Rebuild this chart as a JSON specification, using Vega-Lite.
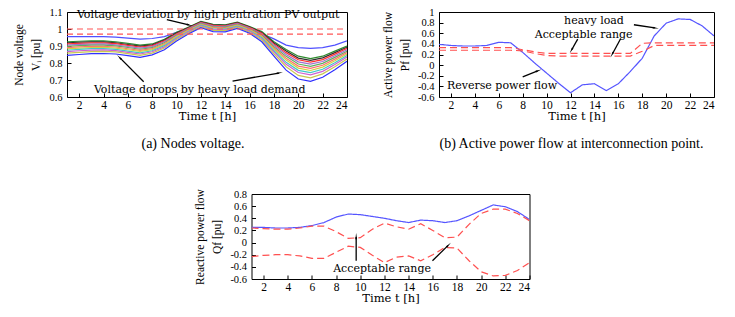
{
  "$schema": "https://vega.github.io/schema/vega-lite/v6.json",
  "background": "white",
  "padding": {"left": 13, "top": 6, "right": 2, "bottom": 0},
  "config": {
    "view": {"stroke": "#000", "strokeWidth": 1},
    "font": "DejaVu Serif",
    "axis": {"grid": false, "domain": false, "tickColor": "#000", "tickSize": -4, "labelColor": "#000", "titleColor": "#000", "titleFontWeight": "normal", "labelFont": "Liberation Serif", "labelFontSize": 11.5, "labelOverlap": false},
    "axisX": {"titleFont": "DejaVu Serif", "titleFontSize": 11.5, "titlePadding": 0, "labelPadding": 6},
    "axisY": {"titleFont": "Liberation Serif", "titleFontSize": 11.5, "titlePadding": 7, "labelPadding": 9, "titleLineHeight": 17, "labelFontSize": 10.5},
    "title": {"font": "Liberation Serif", "fontSize": 14, "fontWeight": "normal", "color": "#000"},
    "text": {"font": "DejaVu Serif", "fontSize": 11, "color": "#000"}
  },
  "spacing": 36,
  "center": true,
  "resolve": {"scale": {"color": "independent", "strokeDash": "independent"}},
  "vconcat": [
    {
      "spacing": 32,
      "resolve": {"scale": {"color": "independent", "strokeDash": "independent"}},
      "hconcat": [
        {
          "width": 280,
          "height": 85,
          "title": {"text": "(a) Nodes voltage.", "orient": "bottom", "anchor": "middle", "frame": "group", "dx": -14, "offset": 15},
          "encoding": {
            "x": {"field": "t", "type": "quantitative", "scale": {"domain": [1, 24], "nice": false, "zero": false}, "axis": {"values": [2, 4, 6, 8, 10, 12, 14, 16, 18, 20, 22, 24], "title": "Time t [h]"}},
            "y": {"field": "v", "type": "quantitative", "scale": {"domain": [0.6, 1.1], "nice": false, "zero": false}, "axis": {"values": [0.6, 0.7, 0.8, 0.9, 1, 1.1], "labelExpr": "'' + datum.value", "title": ["Node voltage", "Vᵢ [pu]"]}}
          },
          "layer": [
            {
              "data": {"values": [
                {"t": 1, "L1": 0.955, "L2": 0.925, "L3": 0.919, "L4": 0.912, "L5": 0.905, "L6": 0.898, "L7": 0.891, "L8": 0.883, "L9": 0.875, "L10": 0.867, "L11": 0.858, "L12": 0.845},
                {"t": 2, "L1": 0.955, "L2": 0.928, "L3": 0.922, "L4": 0.916, "L5": 0.909, "L6": 0.902, "L7": 0.895, "L8": 0.887, "L9": 0.880, "L10": 0.872, "L11": 0.863, "L12": 0.850},
                {"t": 3, "L1": 0.955, "L2": 0.930, "L3": 0.924, "L4": 0.918, "L5": 0.911, "L6": 0.905, "L7": 0.898, "L8": 0.891, "L9": 0.884, "L10": 0.876, "L11": 0.867, "L12": 0.855},
                {"t": 4, "L1": 0.955, "L2": 0.930, "L3": 0.924, "L4": 0.918, "L5": 0.912, "L6": 0.905, "L7": 0.898, "L8": 0.892, "L9": 0.884, "L10": 0.877, "L11": 0.868, "L12": 0.856},
                {"t": 5, "L1": 0.952, "L2": 0.925, "L3": 0.919, "L4": 0.914, "L5": 0.907, "L6": 0.901, "L7": 0.894, "L8": 0.888, "L9": 0.880, "L10": 0.873, "L11": 0.865, "L12": 0.853},
                {"t": 6, "L1": 0.946, "L2": 0.915, "L3": 0.909, "L4": 0.904, "L5": 0.897, "L6": 0.891, "L7": 0.884, "L8": 0.878, "L9": 0.870, "L10": 0.863, "L11": 0.855, "L12": 0.843},
                {"t": 7, "L1": 0.940, "L2": 0.905, "L3": 0.899, "L4": 0.894, "L5": 0.887, "L6": 0.881, "L7": 0.874, "L8": 0.868, "L9": 0.860, "L10": 0.853, "L11": 0.845, "L12": 0.833},
                {"t": 8, "L1": 0.944, "L2": 0.912, "L3": 0.907, "L4": 0.902, "L5": 0.896, "L6": 0.890, "L7": 0.885, "L8": 0.879, "L9": 0.872, "L10": 0.866, "L11": 0.858, "L12": 0.848},
                {"t": 9, "L1": 0.955, "L2": 0.940, "L3": 0.935, "L4": 0.930, "L5": 0.925, "L6": 0.919, "L7": 0.913, "L8": 0.908, "L9": 0.902, "L10": 0.895, "L11": 0.888, "L12": 0.878},
                {"t": 10, "L1": 0.980, "L2": 0.980, "L3": 0.976, "L4": 0.972, "L5": 0.968, "L6": 0.963, "L7": 0.959, "L8": 0.954, "L9": 0.949, "L10": 0.944, "L11": 0.938, "L12": 0.930},
                {"t": 11, "L1": 1.005, "L2": 1.012, "L3": 1.009, "L4": 1.006, "L5": 1.002, "L6": 0.998, "L7": 0.995, "L8": 0.991, "L9": 0.987, "L10": 0.983, "L11": 0.978, "L12": 0.972},
                {"t": 12, "L1": 1.030, "L2": 1.045, "L3": 1.042, "L4": 1.039, "L5": 1.036, "L6": 1.032, "L7": 1.029, "L8": 1.026, "L9": 1.022, "L10": 1.018, "L11": 1.014, "L12": 1.008},
                {"t": 13, "L1": 1.010, "L2": 1.028, "L3": 1.025, "L4": 1.021, "L5": 1.017, "L6": 1.013, "L7": 1.010, "L8": 1.006, "L9": 1.001, "L10": 0.997, "L11": 0.992, "L12": 0.985},
                {"t": 14, "L1": 1.010, "L2": 1.025, "L3": 1.022, "L4": 1.018, "L5": 1.015, "L6": 1.011, "L7": 1.007, "L8": 1.003, "L9": 0.999, "L10": 0.995, "L11": 0.990, "L12": 0.983},
                {"t": 15, "L1": 1.025, "L2": 1.040, "L3": 1.037, "L4": 1.034, "L5": 1.031, "L6": 1.027, "L7": 1.024, "L8": 1.021, "L9": 1.017, "L10": 1.013, "L11": 1.009, "L12": 1.003},
                {"t": 16, "L1": 1.005, "L2": 1.015, "L3": 1.012, "L4": 1.009, "L5": 1.005, "L6": 1.001, "L7": 0.998, "L8": 0.994, "L9": 0.990, "L10": 0.986, "L11": 0.981, "L12": 0.975},
                {"t": 17, "L1": 0.972, "L2": 0.985, "L3": 0.980, "L4": 0.975, "L5": 0.970, "L6": 0.965, "L7": 0.959, "L8": 0.954, "L9": 0.948, "L10": 0.942, "L11": 0.935, "L12": 0.925},
                {"t": 18, "L1": 0.942, "L2": 0.925, "L3": 0.918, "L4": 0.911, "L5": 0.904, "L6": 0.896, "L7": 0.888, "L8": 0.881, "L9": 0.872, "L10": 0.864, "L11": 0.854, "L12": 0.840},
                {"t": 19, "L1": 0.905, "L2": 0.880, "L3": 0.870, "L4": 0.861, "L5": 0.850, "L6": 0.839, "L7": 0.828, "L8": 0.817, "L9": 0.804, "L10": 0.792, "L11": 0.778, "L12": 0.758},
                {"t": 20, "L1": 0.890, "L2": 0.840, "L3": 0.829, "L4": 0.819, "L5": 0.807, "L6": 0.794, "L7": 0.782, "L8": 0.770, "L9": 0.757, "L10": 0.744, "L11": 0.727, "L12": 0.706},
                {"t": 21, "L1": 0.886, "L2": 0.826, "L3": 0.815, "L4": 0.805, "L5": 0.793, "L6": 0.780, "L7": 0.768, "L8": 0.756, "L9": 0.743, "L10": 0.730, "L11": 0.713, "L12": 0.692},
                {"t": 22, "L1": 0.890, "L2": 0.840, "L3": 0.830, "L4": 0.820, "L5": 0.809, "L6": 0.798, "L7": 0.787, "L8": 0.776, "L9": 0.763, "L10": 0.751, "L11": 0.736, "L12": 0.716},
                {"t": 23, "L1": 0.905, "L2": 0.870, "L3": 0.861, "L4": 0.852, "L5": 0.843, "L6": 0.833, "L7": 0.823, "L8": 0.813, "L9": 0.802, "L10": 0.791, "L11": 0.778, "L12": 0.760},
                {"t": 24, "L1": 0.930, "L2": 0.900, "L3": 0.893, "L4": 0.886, "L5": 0.878, "L6": 0.869, "L7": 0.861, "L8": 0.853, "L9": 0.844, "L10": 0.835, "L11": 0.824, "L12": 0.810}
              ]},
              "transform": [{"fold": ["L1", "L2", "L3", "L4", "L5", "L6", "L7", "L8", "L9", "L10", "L11", "L12"], "as": ["series", "v"]}],
              "mark": {"type": "line", "strokeWidth": 1.2, "clip": true},
              "encoding": {
                "color": {"field": "series", "type": "nominal", "legend": null, "scale": {"domain": ["L1", "L2", "L3", "L4", "L5", "L6", "L7", "L8", "L9", "L10", "L11", "L12"], "range": ["#5050ff", "#2d8a2d", "#303030", "#ff3030", "#a070d0", "#60b060", "#ff7070", "#d0d040", "#40c8c8", "#d060d0", "#c8c850", "#3030ff"]}}
              }
            },
            {
              "data": {"values": [{"t": 1, "t2": 24, "v": 1.0, "v2": 1.0}, {"t": 1, "t2": 24, "v": 0.97, "v2": 0.97}]},
              "mark": {"type": "rule", "color": "#ff5555", "strokeWidth": 1.2, "strokeDash": [6, 4]},
              "encoding": {"x2": {"field": "t2"}, "y2": {"field": "v2"}}
            },
            {
              "data": {"values": [{"t": 12.6, "v": 1.08, "label": "Voltage deviation by high pentration PV output"}, {"t": 11.9, "v": 0.64, "label": "Voltage dorops by heavy load demand"}]},
              "mark": {"type": "text", "align": "center", "baseline": "middle"},
              "encoding": {"text": {"field": "label"}}
            },
            {
              "data": {"values": [{"t": 9.2, "v": 1.055, "t2": 11.0, "v2": 1.024}, {"t": 7.3, "v": 0.69, "t2": 5.35, "v2": 0.83}, {"t": 14.6, "v": 0.694, "t2": 18.4, "v2": 0.741}]},
              "mark": {"type": "rule", "color": "#000", "strokeWidth": 1.3},
              "encoding": {"x2": {"field": "t2"}, "y2": {"field": "v2"}}
            },
            {"data": {"values": [{"t": 11.0, "v": 1.024}]}, "mark": {"type": "point", "shape": "wedge", "filled": true, "color": "#000", "opacity": 1, "size": 50, "angle": 104}, "encoding": {}},
            {"data": {"values": [{"t": 5.35, "v": 0.83}]}, "mark": {"type": "point", "shape": "wedge", "filled": true, "color": "#000", "opacity": 1, "size": 50, "angle": 315}, "encoding": {}},
            {"data": {"values": [{"t": 18.4, "v": 0.741}]}, "mark": {"type": "point", "shape": "wedge", "filled": true, "color": "#000", "opacity": 1, "size": 50, "angle": 80}, "encoding": {}}
          ]
        },
        {
          "width": 275,
          "height": 85,
          "title": {"text": "(b) Active power flow at interconnection point.", "orient": "bottom", "anchor": "middle", "frame": "group", "dx": -5, "offset": 15},
          "encoding": {
            "x": {"field": "t", "type": "quantitative", "scale": {"domain": [1, 24], "nice": false, "zero": false}, "axis": {"values": [2, 4, 6, 8, 10, 12, 14, 16, 18, 20, 22, 24], "title": "Time t [h]"}},
            "y": {"field": "v", "type": "quantitative", "scale": {"domain": [-0.6, 1], "nice": false, "zero": false}, "axis": {"values": [-0.6, -0.4, -0.2, 0, 0.2, 0.4, 0.6, 0.8, 1], "labelExpr": "'' + datum.value", "title": ["Active power flow", "Pf [pu]"]}}
          },
          "layer": [
            {
              "data": {"values": [
                {"t": 1, "P": 0.39, "U": 0.33, "L": 0.28},
                {"t": 2, "P": 0.37, "U": 0.33, "L": 0.28},
                {"t": 3, "P": 0.36, "U": 0.33, "L": 0.28},
                {"t": 4, "P": 0.36, "U": 0.33, "L": 0.28},
                {"t": 5, "P": 0.37, "U": 0.33, "L": 0.28},
                {"t": 6, "P": 0.43, "U": 0.33, "L": 0.28},
                {"t": 7, "P": 0.42, "U": 0.33, "L": 0.28},
                {"t": 8, "P": 0.24, "U": 0.29, "L": 0.27},
                {"t": 9, "P": 0.04, "U": 0.25, "L": 0.22},
                {"t": 10, "P": -0.15, "U": 0.22, "L": 0.18},
                {"t": 11, "P": -0.34, "U": 0.22, "L": 0.17},
                {"t": 12, "P": -0.52, "U": 0.22, "L": 0.17},
                {"t": 13, "P": -0.37, "U": 0.22, "L": 0.17},
                {"t": 14, "P": -0.35, "U": 0.22, "L": 0.17},
                {"t": 15, "P": -0.48, "U": 0.22, "L": 0.17},
                {"t": 16, "P": -0.35, "U": 0.22, "L": 0.17},
                {"t": 17, "P": -0.12, "U": 0.22, "L": 0.17},
                {"t": 18, "P": 0.13, "U": 0.41, "L": 0.26},
                {"t": 19, "P": 0.55, "U": 0.42, "L": 0.37},
                {"t": 20, "P": 0.79, "U": 0.42, "L": 0.37},
                {"t": 21, "P": 0.87, "U": 0.42, "L": 0.37},
                {"t": 22, "P": 0.86, "U": 0.42, "L": 0.37},
                {"t": 23, "P": 0.74, "U": 0.42, "L": 0.37},
                {"t": 24, "P": 0.55, "U": 0.42, "L": 0.37}
              ]},
              "transform": [{"fold": ["P", "U", "L"], "as": ["series", "v"]}],
              "mark": {"type": "line", "strokeWidth": 1.2, "clip": true},
              "encoding": {
                "color": {"field": "series", "type": "nominal", "legend": null, "scale": {"domain": ["P", "U", "L"], "range": ["#5555ff", "#ff5050", "#ff5050"]}},
                "strokeDash": {"field": "series", "type": "nominal", "legend": null, "scale": {"domain": ["P", "U", "L"], "range": [[1, 0], [7, 4], [7, 4]]}}
              }
            },
            {
              "data": {"values": [{"t": 13.96, "v": 0.825, "label": "heavy load"}, {"t": 13.1, "v": 0.56, "label": "Acceptable range"}, {"t": 6.27, "v": -0.39, "label": "Reverse power flow"}]},
              "mark": {"type": "text", "align": "center", "baseline": "middle"},
              "encoding": {"text": {"field": "label"}}
            },
            {
              "data": {"values": [{"t": 17.3, "v": 0.76, "t2": 19.05, "v2": 0.70}, {"t": 12.6, "v": 0.49, "t2": 12.1, "v2": 0.29}, {"t": 16.2, "v": 0.50, "t2": 15.5, "v2": 0.21}, {"t": 8.0, "v": -0.22, "t2": 9.25, "v2": -0.11}]},
              "mark": {"type": "rule", "color": "#000", "strokeWidth": 1.3},
              "encoding": {"x2": {"field": "t2"}, "y2": {"field": "v2"}}
            },
            {"data": {"values": [{"t": 19.05, "v": 0.70}]}, "mark": {"type": "point", "shape": "wedge", "filled": true, "color": "#000", "opacity": 1, "size": 50, "angle": 99}, "encoding": {}},
            {"data": {"values": [{"t": 12.1, "v": 0.29}]}, "mark": {"type": "point", "shape": "wedge", "filled": true, "color": "#000", "opacity": 1, "size": 50, "angle": 209}, "encoding": {}},
            {"data": {"values": [{"t": 15.5, "v": 0.21}]}, "mark": {"type": "point", "shape": "wedge", "filled": true, "color": "#000", "opacity": 1, "size": 50, "angle": 208}, "encoding": {}},
            {"data": {"values": [{"t": 9.25, "v": -0.11}]}, "mark": {"type": "point", "shape": "wedge", "filled": true, "color": "#000", "opacity": 1, "size": 50, "angle": 69}, "encoding": {}}
          ]
        }
      ]
    },
    {
      "width": 278,
      "height": 85,
      "encoding": {
        "x": {"field": "t", "type": "quantitative", "scale": {"domain": [1, 24], "nice": false, "zero": false}, "axis": {"values": [2, 4, 6, 8, 10, 12, 14, 16, 18, 20, 22, 24], "title": "Time t  [h]"}},
        "y": {"field": "v", "type": "quantitative", "scale": {"domain": [-0.6, 0.8], "nice": false, "zero": false}, "axis": {"values": [-0.6, -0.4, -0.2, 0, 0.2, 0.4, 0.6, 0.8], "labelExpr": "'' + datum.value", "title": ["Reactive power flow", "Qf  [pu]"]}}
      },
      "layer": [
        {
          "data": {"values": [
            {"t": 1, "Q": 0.25, "U": 0.24, "L": -0.23},
            {"t": 2, "Q": 0.25, "U": 0.23, "L": -0.21},
            {"t": 3, "Q": 0.24, "U": 0.22, "L": -0.2},
            {"t": 4, "Q": 0.24, "U": 0.22, "L": -0.2},
            {"t": 5, "Q": 0.25, "U": 0.24, "L": -0.22},
            {"t": 6, "Q": 0.28, "U": 0.27, "L": -0.26},
            {"t": 7, "Q": 0.33, "U": 0.27, "L": -0.26},
            {"t": 8, "Q": 0.42, "U": 0.18, "L": -0.16},
            {"t": 9, "Q": 0.47, "U": 0.07, "L": -0.06},
            {"t": 10, "Q": 0.46, "U": 0.08, "L": -0.08},
            {"t": 11, "Q": 0.43, "U": 0.22, "L": -0.21},
            {"t": 12, "Q": 0.40, "U": 0.32, "L": -0.33},
            {"t": 13, "Q": 0.36, "U": 0.26, "L": -0.24},
            {"t": 14, "Q": 0.33, "U": 0.22, "L": -0.22},
            {"t": 15, "Q": 0.37, "U": 0.31, "L": -0.3},
            {"t": 16, "Q": 0.36, "U": 0.2, "L": -0.2},
            {"t": 17, "Q": 0.33, "U": 0.08, "L": -0.08},
            {"t": 18, "Q": 0.36, "U": 0.09, "L": -0.09},
            {"t": 19, "Q": 0.44, "U": 0.3, "L": -0.3},
            {"t": 20, "Q": 0.53, "U": 0.48, "L": -0.48},
            {"t": 21, "Q": 0.62, "U": 0.55, "L": -0.55},
            {"t": 22, "Q": 0.59, "U": 0.55, "L": -0.54},
            {"t": 23, "Q": 0.51, "U": 0.48, "L": -0.46},
            {"t": 24, "Q": 0.38, "U": 0.36, "L": -0.33}
          ]},
          "transform": [{"fold": ["Q", "U", "L"], "as": ["series", "v"]}],
          "mark": {"type": "line", "strokeWidth": 1.2, "clip": true},
          "encoding": {
            "color": {"field": "series", "type": "nominal", "legend": null, "scale": {"domain": ["Q", "U", "L"], "range": ["#5555ff", "#ff5050", "#ff5050"]}},
            "strokeDash": {"field": "series", "type": "nominal", "legend": null, "scale": {"domain": ["Q", "U", "L"], "range": [[1, 0], [7, 4], [7, 4]]}}
          }
        },
        {
          "data": {"values": [{"t": 11.8, "v": -0.435, "label": "Acceptable range"}]},
          "mark": {"type": "text", "align": "center", "baseline": "middle"},
          "encoding": {"text": {"field": "label"}}
        },
        {
          "data": {"values": [{"t": 9.66, "v": -0.3, "t2": 9.66, "v2": 0.09}, {"t": 15.97, "v": -0.3, "t2": 17.25, "v2": -0.05}]},
          "mark": {"type": "rule", "color": "#000", "strokeWidth": 1.3},
          "encoding": {"x2": {"field": "t2"}, "y2": {"field": "v2"}}
        },
        {"data": {"values": [{"t": 9.66, "v": 0.09}]}, "mark": {"type": "point", "shape": "wedge", "filled": true, "color": "#000", "opacity": 1, "size": 50, "angle": 0}, "encoding": {}},
        {"data": {"values": [{"t": 17.25, "v": -0.05}]}, "mark": {"type": "point", "shape": "wedge", "filled": true, "color": "#000", "opacity": 1, "size": 50, "angle": 45}, "encoding": {}}
      ]
    }
  ]
}
